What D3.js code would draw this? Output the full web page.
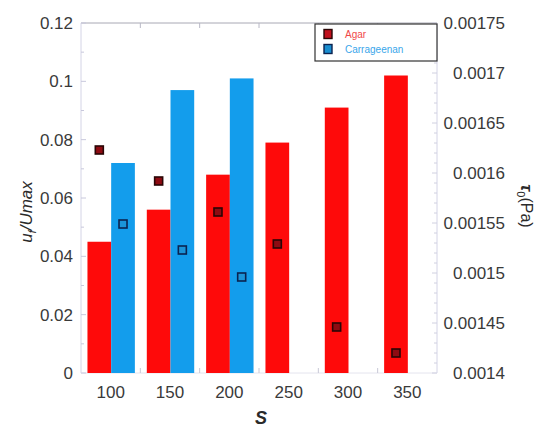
<!DOCTYPE html>
<html>
<head>
<meta charset="utf-8">
<script src="https://cdn.jsdelivr.net/npm/d3@7"></script>
<style>
  html, body { margin: 0; padding: 0; background: #fff; }
  svg { display: block; }
  text { font-family: "Liberation Sans", Arial, sans-serif; }
</style>
</head>
<body>
<script>
// Grouped bars: u_f/Umax per S; squares: yield stress tau_0 (right axis)
const categories = ["100", "150", "200", "250", "300", "350"];
const seriesNames = ["Agar", "Carrageenan"];
const agarRatio = [0.045, 0.056, 0.068, 0.079, 0.091, 0.102];
const carrRatio = [0.072, 0.097, 0.101, null, null, null];
const agarTau = [0.001623, 0.001592, 0.001561, 0.001529, 0.001446, 0.00142];
const carrTau = [0.001549, 0.001523, 0.001496, null, null, null];
const leftTicks = [0, 0.02, 0.04, 0.06, 0.08, 0.1, 0.12];
const rightTicks = [0.0014, 0.00145, 0.0015, 0.00155, 0.0016, 0.00165, 0.0017, 0.00175];

const W = 536, H = 428;
const m = { left: 81, right: 437, top: 23, bottom: 373 };
const colors = { Agar: "#fe0a0a", Carrageenan: "#139dec" };
const markerFill = { Agar: "#8e0b12", Carrageenan: "#1b94d8" };
const markerStroke = { Agar: "#2a0606", Carrageenan: "#0b2350" };

const svg = d3.select("body").append("svg").attr("width", W).attr("height", H);

const x = d3.scaleBand().domain(categories).range([m.left, m.right]).padding(0);
const xs = d3.scaleBand().domain(seriesNames).range([-23.2, 24.2]).padding(0);
const y = d3.scaleLinear().domain([0, 0.12]).range([m.bottom, m.top]);
const y2 = d3.scaleLinear().domain([0.0014, 0.00175]).range([m.bottom, m.top]);

const seriesRatio = { Agar: agarRatio, Carrageenan: carrRatio };
const seriesTau = { Agar: agarTau, Carrageenan: carrTau };
const center = c => x(c) + x.bandwidth() / 2;

// frame
const frame = svg.append("g").attr("fill", "none");
frame.append("line").attr("x1", m.left).attr("x2", m.right).attr("y1", m.top).attr("y2", m.top)
  .attr("stroke", "#a8a8b4").attr("stroke-width", 1);
frame.append("line").attr("x1", m.left).attr("x2", m.left).attr("y1", m.top).attr("y2", m.bottom)
  .attr("stroke", "#d4d4e6").attr("stroke-width", 1);
frame.append("line").attr("x1", m.right).attr("x2", m.right).attr("y1", m.top).attr("y2", m.bottom)
  .attr("stroke", "#d4d4e6").attr("stroke-width", 1);
frame.append("line").attr("x1", m.left).attr("x2", m.right).attr("y1", m.bottom).attr("y2", m.bottom)
  .attr("stroke", "#e4e4ee").attr("stroke-width", 1);

// left axis
const leftAxis = d3.axisLeft(y).tickValues(leftTicks).tickSize(0).tickPadding(8)
  .tickFormat(d => d === 0 ? "0" : d3.format("")(+d.toFixed(2)));
const gL = svg.append("g").attr("transform", `translate(${m.left},0)`).call(leftAxis);
gL.select(".domain").remove();
gL.selectAll("text").attr("font-size", 17).attr("fill", "#3a3a3a");
// inward ticks on left axis (major + half steps)
const leftMinor = d3.range(0, 0.1201, 0.01);
svg.append("g").selectAll("line").data(leftMinor).join("line")
  .attr("x1", m.left).attr("x2", (d, i) => m.left + (i % 2 === 0 ? 5 : 3))
  .attr("y1", d => y(d)).attr("y2", d => y(d))
  .attr("stroke", "#c8c8dc").attr("stroke-width", 1);

// right axis
const rightAxis = d3.axisRight(y2).tickValues(rightTicks).tickSize(0).tickPadding(0)
  .tickFormat(d => String(+d.toFixed(5)));
const gR = svg.append("g").attr("transform", `translate(${m.right},0)`).call(rightAxis);
gR.select(".domain").remove();
gR.selectAll("text").attr("font-size", 17).attr("fill", "#3a3a3a")
  .attr("text-anchor", "end").attr("x", 68);
const rightMinor = d3.range(0.0014, 0.001751, 0.00001);
svg.append("g").selectAll("line").data(rightMinor).join("line")
  .attr("x1", m.right).attr("x2", (d, i) => m.right - (i % 5 === 0 ? 5 : 3))
  .attr("y1", d => y2(d)).attr("y2", d => y2(d))
  .attr("stroke", "#d0d0e0").attr("stroke-width", 1);

// bottom axis labels
const bottomAxis = d3.axisBottom(x).tickSize(0).tickPadding(13);
const gB = svg.append("g").attr("transform", `translate(0,${m.bottom})`).call(bottomAxis);
gB.select(".domain").remove();
gB.selectAll("text").attr("font-size", 17).attr("fill", "#3a3a3a");

// ticks at group boundaries (top and bottom)
const bounds = categories.slice(1).map(c => x(c));
svg.append("g").selectAll("line").data(bounds).join("line")
  .attr("x1", d => d).attr("x2", d => d).attr("y1", m.top).attr("y2", m.top + 5)
  .attr("stroke", "#b8b8c6");
svg.append("g").selectAll("line").data(bounds).join("line")
  .attr("x1", d => d).attr("x2", d => d).attr("y1", m.bottom).attr("y2", m.bottom - 5)
  .attr("stroke", "#c8c8d6");

// bars
const bars = svg.append("g");
seriesNames.forEach(s => {
  const data = categories.map((c, i) => ({ c, v: seriesRatio[s][i] })).filter(d => d.v != null);
  bars.selectAll(null).data(data).join("rect")
    .attr("x", d => center(d.c) + xs(s))
    .attr("width", xs.bandwidth())
    .attr("y", d => y(d.v))
    .attr("height", d => y(0) - y(d.v))
    .attr("fill", colors[s]);
});

// tau_0 markers
const mk = svg.append("g");
seriesNames.forEach(s => {
  const data = categories.map((c, i) => ({ c, v: seriesTau[s][i] })).filter(d => d.v != null);
  mk.selectAll(null).data(data).join("rect")
    .attr("x", d => center(d.c) + xs(s) + xs.bandwidth() / 2 - 4)
    .attr("y", d => y2(d.v) - 4)
    .attr("width", 8).attr("height", 8)
    .attr("fill", markerFill[s])
    .attr("stroke", markerStroke[s]).attr("stroke-width", 1.6);
});

// legend
const lg = svg.append("g");
lg.append("rect").attr("x", 315).attr("y", 24).attr("width", 122).attr("height", 37)
  .attr("fill", "#fff").attr("stroke", "#333").attr("stroke-width", 1.2);
seriesNames.forEach((s, i) => {
  const cy = 34 + i * 15;
  lg.append("rect").attr("x", 324).attr("y", cy - 4.5).attr("width", 8).attr("height", 9)
    .attr("fill", markerFill[s] === "#8e0b12" ? "#c0101c" : "#1a8ed0")
    .attr("stroke", markerStroke[s]).attr("stroke-width", 1.4);
  lg.append("text").attr("x", 345).attr("y", cy + 3.5).text(s)
    .attr("font-size", 10).attr("fill", i === 0 ? "#f04848" : "#3aa6ea");
});

// axis titles
svg.append("text")
  .attr("transform", "translate(32,212) rotate(-90)")
  .attr("text-anchor", "middle").attr("font-size", 17).attr("font-style", "italic").attr("fill", "#2a2a2a")
  .call(t => {
    t.append("tspan").text("u");
    t.append("tspan").text("f").attr("font-size", 11).attr("dy", 4);
    t.append("tspan").text("/Umax").attr("dy", -4);
  });

svg.append("text")
  .attr("transform", "translate(521,206) rotate(90)")
  .attr("text-anchor", "middle").attr("font-size", 16).attr("fill", "#2a2a2a")
  .call(t => {
    t.append("tspan").text("τ").attr("font-weight", "bold").attr("font-style", "italic").attr("font-size", 17);
    t.append("tspan").text("0").attr("font-size", 11).attr("dy", 4);
    t.append("tspan").text("(Pa)").attr("dy", -4);
  });

svg.append("text").attr("x", 261).attr("y", 424).attr("text-anchor", "middle")
  .attr("font-size", 18).attr("font-weight", "bold").attr("font-style", "italic")
  .attr("fill", "#2a2a2a").text("S");
</script>
</body>
</html>
